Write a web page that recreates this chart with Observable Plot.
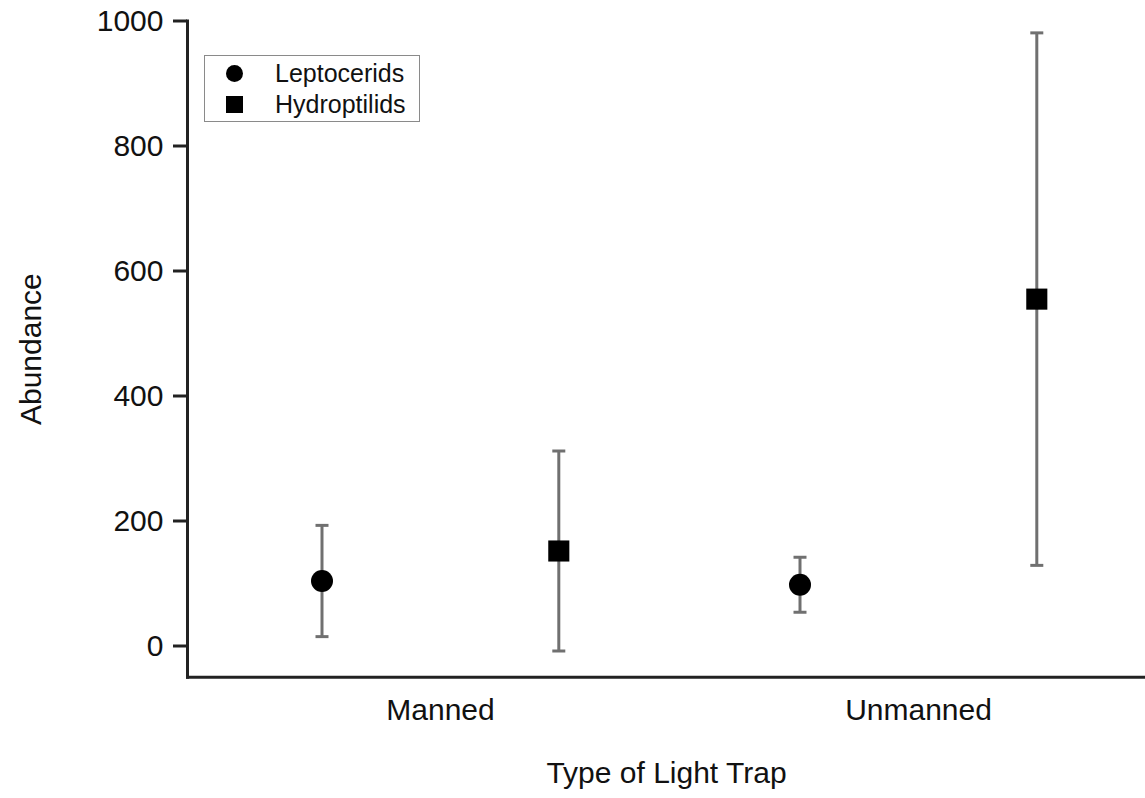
<!DOCTYPE html>
<html>
<head>
<meta charset="utf-8">
<script src="https://cdn.jsdelivr.net/npm/d3@7"></script>
<script src="https://cdn.jsdelivr.net/npm/@observablehq/plot@0.6"></script>
<style>
  html, body { margin: 0; padding: 0; background: #fff; }
  #wrap { position: relative; width: 1145px; height: 798px; font-family: "Liberation Sans", Arial, Helvetica, sans-serif; }
  #legend { position: absolute; left: 204px; top: 55px; width: 216px; height: 67px; border: 1.5px solid #8a8a8a; background: #fff; box-sizing: border-box; }
  .row { position: absolute; left: 0; height: 30px; display: flex; align-items: center; font-size: 25px; color: #111; }
  .sym { position: absolute; background: #000; }
  .lbl { position: absolute; left: 70px; white-space: nowrap; }
</style>
</head>
<body>
<div id="wrap">
  <div id="chart"></div>
  <div id="legend"></div>
</div>
<script>
// ---- data ----
const traps = ["Manned", "Unmanned"];
const seriesNames = ["Leptocerids", "Hydroptilids"];
const leptoMean = [104, 98];
const leptoLow = [15, 54];
const leptoHigh = [193, 142];
const hydroMean = [152, 555];
const hydroLow = [-8, 129];
const hydroHigh = [312, 981];
const yTicks = [0, 200, 400, 600, 800, 1000];

// ---- table built from the arrays ----
const rows = [];
traps.forEach((t, i) => {
  rows.push({trap: t, series: seriesNames[0], mean: leptoMean[i], low: leptoLow[i], high: leptoHigh[i]});
  rows.push({trap: t, series: seriesNames[1], mean: hydroMean[i], low: hydroLow[i], high: hydroHigh[i]});
});

const offset = {Leptocerids: -118.5, Hydroptilids: 118.3};
const errColor = "#707070";
const capSymbol = {draw(ctx) { ctx.moveTo(-6.5, 0); ctx.lineTo(6.5, 0); }};

const marks = [];
for (const s of seriesNames) {
  const d = rows.filter(r => r.series === s);
  const dx = offset[s];
  marks.push(
    Plot.ruleX(d, {x: "trap", y1: "low", y2: "high", dx, stroke: errColor, strokeWidth: 3}),
    Plot.dot(d, {x: "trap", y: "low", dx, symbol: capSymbol, stroke: errColor, strokeWidth: 3, fill: "none", r: 6}),
    Plot.dot(d, {x: "trap", y: "high", dx, symbol: capSymbol, stroke: errColor, strokeWidth: 3, fill: "none", r: 6}),
    Plot.dot(d, {x: "trap", y: "mean", dx, symbol: s === "Leptocerids" ? "circle" : "square",
      r: s === "Leptocerids" ? 11 : 11.9, fill: "#000", stroke: "none"})
  );
}

const chart = Plot.plot({
  width: 1145,
  height: 798,
  marginLeft: 187,
  marginRight: 0,
  marginTop: 20.5,
  marginBottom: 121.25,
  style: {fontFamily: '"Liberation Sans", Arial, Helvetica, sans-serif', background: "#fff", color: "#111"},
  x: {type: "point", domain: traps, range: [440, 918.7], padding: 0},
  y: {domain: [-50, 1000]},
  marks: [
    Plot.frame({anchor: "left", stroke: "#222", strokeWidth: 3}),
    Plot.frame({anchor: "bottom", stroke: "#222", strokeWidth: 3}),
    Plot.axisY(yTicks, {tickSize: 14, tickPadding: 10, fontSize: 30, strokeWidth: 3, stroke: "#222",
      tickFormat: d => String(d),
      label: "Abundance", labelAnchor: "center", labelArrow: "none", labelOffset: 168}),
    Plot.axisX({tickSize: 0, tickPadding: 21, fontSize: 30, label: "Type of Light Trap",
      labelAnchor: "center", labelArrow: "none", labelOffset: 106}),
    ...marks
  ]
});
document.getElementById("chart").appendChild(chart);

// ---- legend ----
const legend = document.getElementById("legend");
seriesNames.forEach((s, i) => {
  const row = document.createElement("div");
  row.className = "row";
  row.style.top = (2 + i * 31) + "px";
  row.style.width = "100%";
  const sym = document.createElement("div");
  sym.className = "sym";
  sym.style.width = "17px"; sym.style.height = "17px";
  sym.style.left = "21px"; sym.style.top = "7px";
  if (s === "Leptocerids") sym.style.borderRadius = "50%";
  const lbl = document.createElement("div");
  lbl.className = "lbl";
  lbl.textContent = s;
  row.appendChild(sym);
  row.appendChild(lbl);
  legend.appendChild(row);
});
</script>
</body>
</html>
